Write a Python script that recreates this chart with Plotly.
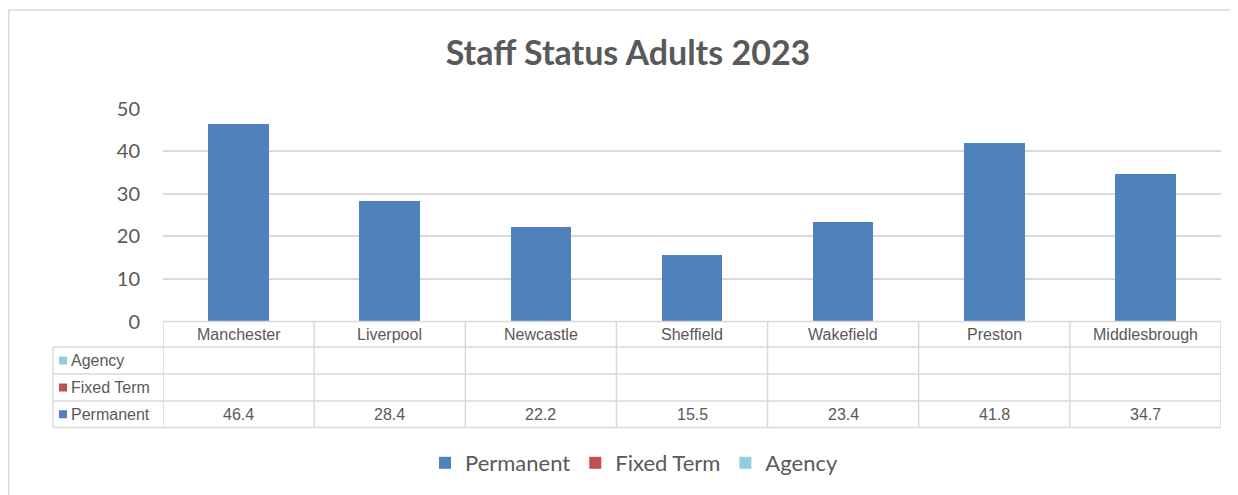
import plotly.graph_objects as go

# ---------------- data ----------------
categories = ["Manchester", "Liverpool", "Newcastle", "Sheffield", "Wakefield", "Preston", "Middlesbrough"]
permanent = [46.4, 28.4, 22.2, 15.5, 23.4, 41.8, 34.7]
fixed_term = [None, None, None, None, None, None, None]
agency = [None, None, None, None, None, None, None]
series_names = ["Permanent", "Fixed Term", "Agency"]
series_colors = ["#4F81BD", "#C0504D", "#93CDDD"]
y_ticks = [0, 10, 20, 30, 40, 50]
title = "Staff Status Adults 2023"

# ---------------- layout helpers ----------------
W, H = 1238, 495
OFF = 8  # page body margin
def px(x):
    return (x - OFF) / W
def py(y):
    return 1 - (y - OFF) / H

TEXT = "#595959"
GRID = "#D9D9D9"
LINE = "#D9D9D9"
TFONT = "Liberation Sans, Arial"
plot_left, plot_right = 163, 1221
plot_top, plot_bottom = 108.5, 321.5
label_left = 53
row_edges = [321.5, 347, 374, 401, 427.5]   # header, Agency, Fixed Term, Permanent

fig = go.Figure()
all_series = [permanent, fixed_term, agency]
for name, vals, col in zip(series_names, all_series, series_colors):
    fig.add_trace(go.Bar(x=categories, y=vals, name=name, marker_color=col,
                         marker_line_width=0))

shapes = []
annotations = []

# chart border (cropped on right/bottom)
shapes.append(dict(type="line", xref="paper", yref="paper", x0=px(8.75), x1=px(8.75),
                   y0=py(10), y1=py(510), line=dict(color=LINE, width=1.5)))
shapes.append(dict(type="line", xref="paper", yref="paper", x0=px(8), x1=px(1250),
                   y0=py(10), y1=py(10), line=dict(color=LINE, width=1.5)))

# table horizontal lines
for i, yy in enumerate(row_edges):
    x0 = px(plot_left) if i == 0 else px(label_left)
    shapes.append(dict(type="line", xref="paper", yref="paper", x0=x0, x1=px(plot_right),
                       y0=py(yy), y1=py(yy), line=dict(color=LINE, width=1.5)))
# table vertical lines at category boundaries
for i in range(len(categories) + 1):
    shapes.append(dict(type="line", xref="x", yref="paper", x0=i - 0.5, x1=i - 0.5,
                       y0=py(row_edges[0]), y1=py(row_edges[-1]),
                       line=dict(color=LINE, width=1.5)))
shapes.append(dict(type="line", xref="paper", yref="paper", x0=px(label_left), x1=px(label_left),
                   y0=py(row_edges[1]), y1=py(row_edges[-1]), line=dict(color=LINE, width=1.5)))

# row labels (reverse order: Agency on top)
table_rows = list(zip(series_names, all_series, series_colors))[::-1]
for r, (name, vals, col) in enumerate(table_rows):
    top, bot = row_edges[r + 1], row_edges[r + 2]
    yc = (top + bot) / 2
    shapes.append(dict(type="rect", xref="paper", yref="paper", x0=px(59), x1=px(67),
                       y0=py(yc + 4), y1=py(yc - 4), fillcolor=col, line=dict(width=0)))
    annotations.append(dict(xref="paper", yref="paper", x=px(69), y=py(yc), text=name,
                            showarrow=False, xanchor="left", yanchor="middle",
                            font=dict(family=TFONT, size=16, color=TEXT)))
    for c, v in zip(categories, vals):
        if v is not None:
            annotations.append(dict(xref="x", yref="paper", x=c, y=py(yc), text=f"{v:.1f}",
                                    showarrow=False, xanchor="center", yanchor="middle",
                                    font=dict(family=TFONT, size=16, color=TEXT)))

# category header row
for c in categories:
    annotations.append(dict(xref="x", yref="paper", x=c, y=py((row_edges[0] + row_edges[1]) / 2),
                            text=c, showarrow=False, xanchor="center", yanchor="middle",
                            font=dict(family=TFONT, size=16, color=TEXT)))

fig.update_layout(
    width=W, height=H,
    margin=dict(l=0, r=0, t=0, b=0, autoexpand=False),
    paper_bgcolor="white", plot_bgcolor="white",
    barmode="stack", bargap=0.6,
    title=dict(text=title, x=px(628), xanchor="center", y=py(53), yanchor="middle",
               font=dict(family="Lato", size=34, color=TEXT, weight="bold")),
    xaxis=dict(domain=[px(plot_left), px(plot_right)], range=[-0.5, len(categories) - 0.5],
               showticklabels=False, showgrid=False, zeroline=False, showline=False),
    yaxis=dict(domain=[py(plot_bottom), py(plot_top)], range=[0, 50], tickvals=y_ticks,
               showgrid=True, gridcolor=GRID, gridwidth=1.5, zeroline=False, showline=False,
               ticks="", ticklabelstandoff=22,
               tickfont=dict(family="Lato", size=20, color=TEXT)),
    legend=dict(orientation="h", x=px(634), xanchor="center", y=py(463), yanchor="middle",
                font=dict(family="Lato", size=22, color=TEXT), itemwidth=30,
                traceorder="normal"),
    shapes=shapes,
    annotations=annotations,
)

fig.write_html("out.html")
